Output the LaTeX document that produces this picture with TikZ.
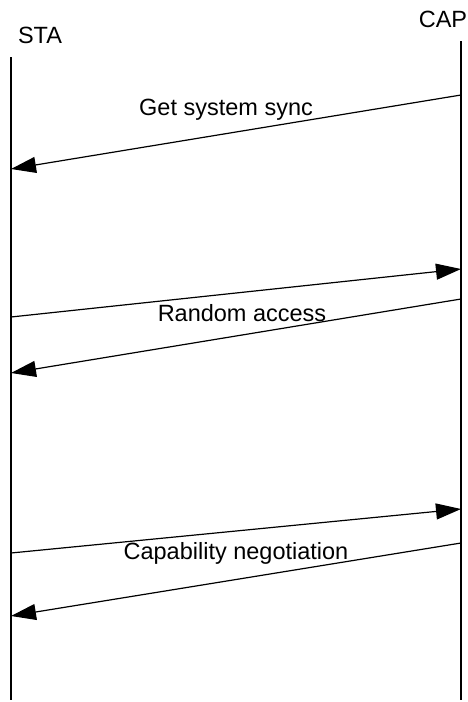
\documentclass[tikz,border=0pt]{standalone}
\usepackage{fontspec}
\setmainfont{Liberation Sans}
\usetikzlibrary{arrows.meta}
\begin{document}
\begin{tikzpicture}[x=1pt,y=-1pt,
  lifeline/.style={line width=1.2pt},
  msg/.style={line width=1.2pt,-{Triangle[length=25pt,width=16pt]}},
  lbl/.style={font=\fontsize{23.5}{26}\selectfont,inner sep=0pt},
  title/.style={font=\fontsize{23.5}{26}\selectfont,inner sep=0pt}]
\useasboundingbox (0,0) rectangle (468,702);
\node[title] (sta) at (40,35) {STA};
\node[title] (cap) at (443,19) {CAP};
\coordinate (staTop) at (11,57);
\coordinate (staBot) at (11,700);
\coordinate (capTop) at (461,41);
\coordinate (capBot) at (461,700);
\draw[lifeline] (staTop) -- (staBot);
\draw[lifeline] (capTop) -- (capBot);
% messages
\coordinate (c1) at (461,95);  \coordinate (s1) at (11,169);
\coordinate (s2) at (11,317);  \coordinate (c2) at (461,269);
\coordinate (c3) at (461,299); \coordinate (s3) at (11,373);
\coordinate (s4) at (11,553);  \coordinate (c4) at (461,509);
\coordinate (c5) at (461,543); \coordinate (s5) at (11,616);
\draw[msg] (c1) -- (s1);
\draw[msg] (s2) -- (c2);
\draw[msg] (c3) -- (s3);
\draw[msg] (s4) -- (c4);
\draw[msg] (c5) -- (s5);
\node[lbl] (l1) at (226,110) {Get system sync};
\node[lbl] (l3) at (242,313) {Random access};
\node[lbl] (l5) at (236,553) {Capability negotiation};
\end{tikzpicture}
\end{document}
